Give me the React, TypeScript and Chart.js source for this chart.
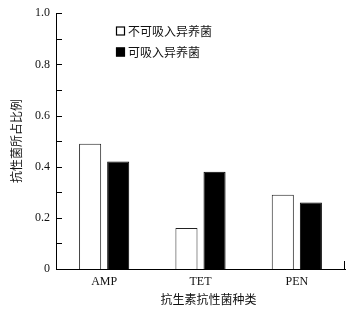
import React, { useEffect, useRef } from "react";
import { Chart, registerables } from "chart.js";

Chart.register(...registerables);

const categories = ["AMP", "TET", "PEN"];
const seriesNames = ["不可吸入异养菌", "可吸入异养菌"];
const nonInhalable = [0.49, 0.16, 0.29];
const inhalable = [0.42, 0.38, 0.26];
const yTickValues = [0, 0.1, 0.2, 0.3, 0.4, 0.5, 0.6, 0.7, 0.8, 0.9, 1.0];
const xTitle = "抗生素抗性菌种类";
const yTitle = "抗性菌所占比例";

const SERIF = "'Liberation Serif', 'Times New Roman', 'Noto Sans CJK SC', serif";
const CJK = "'Noto Sans CJK SC', 'Liberation Serif', sans-serif";

export default function App() {
  const ref = useRef<HTMLCanvasElement | null>(null);

  useEffect(() => {
    if (!ref.current) return;
    const decor = {
      id: "decor",
      afterDraw(chart: any) {
        const ctx = chart.ctx;
        const y = chart.scales.y;
        const x = chart.scales.x;
        const area = chart.chartArea;
        ctx.save();
        ctx.strokeStyle = "#000";
        ctx.lineWidth = 1;
        // inward y ticks
        yTickValues.forEach((v) => {
          const py = Math.round(y.getPixelForValue(v)) + 0.5;
          ctx.beginPath();
          ctx.moveTo(area.left, py);
          ctx.lineTo(area.left + 6, py);
          ctx.stroke();
        });
        // right end tick on x axis
        const rx = Math.round(area.right) - 0.5;
        ctx.beginPath();
        ctx.moveTo(rx, area.bottom);
        ctx.lineTo(rx, area.bottom - 8);
        ctx.stroke();

        // legend
        const ds = chart.data.datasets;
        const lx = 116;
        const lys = [31, 52];
        ds.forEach((d: any, i: number) => {
          const cy = lys[i];
          ctx.fillStyle = d.backgroundColor;
          ctx.fillRect(lx, cy - 4.5, 9, 9);
          ctx.strokeStyle = "#000";
          ctx.lineWidth = 1.2;
          ctx.strokeRect(lx + 0.5, cy - 4, 8, 8);
          ctx.fillStyle = "#111";
          ctx.font = `12px ${CJK}`;
          ctx.textAlign = "left";
          ctx.textBaseline = "middle";
          ctx.fillText(d.label, lx + 12, cy);
        });

        // x title
        ctx.fillStyle = "#111";
        ctx.font = `12px ${CJK}`;
        ctx.textAlign = "center";
        ctx.textBaseline = "middle";
        ctx.fillText(xTitle, (x.left + x.right) / 2 + 8, 299);

        // y title
        ctx.save();
        ctx.translate(16, (area.top + area.bottom) / 2);
        ctx.rotate(-Math.PI / 2);
        ctx.fillText(yTitle, 0, 0);
        ctx.restore();
        ctx.restore();
      },
    };

    const chart = new Chart(ref.current, {
      type: "bar",
      data: {
        labels: categories,
        datasets: [
          {
            label: seriesNames[0],
            data: nonInhalable,
            backgroundColor: "#ffffff",
            borderColor: "#222",
            borderWidth: 1,
          },
          {
            label: seriesNames[1],
            data: inhalable,
            backgroundColor: "#000000",
            borderColor: "#000",
            borderWidth: 1,
          },
        ],
      },
      options: {
        responsive: false,
        animation: false,
        maintainAspectRatio: false,
        layout: { padding: { top: 12, right: 4, left: 0, bottom: 0 } },
        datasets: {
          bar: { categoryPercentage: 0.583, barPercentage: 0.786 },
        },
        plugins: {
          legend: { display: false },
          tooltip: { enabled: false },
          title: { display: false },
        },
        scales: {
          x: {
            grid: { display: false, drawTicks: false },
            border: { display: true, color: "#000", width: 1 },
            ticks: {
              color: "#111",
              font: { family: SERIF, size: 12 },
              padding: 6,
            },
            afterFit: (s: any) => {
              s.height = 40;
            },
          },
          y: {
            min: 0,
            max: 1,
            grid: { display: false, drawTicks: false },
            border: { display: true, color: "#000", width: 1 },
            ticks: {
              stepSize: 0.2,
              color: "#111",
              font: { family: SERIF, size: 12 },
              padding: 6,
              callback: (v: any) => (Number(v) === 0 ? "0" : Number(v).toFixed(1)),
            },
            afterFit: (s: any) => {
              s.width = 56;
            },
          },
        },
      },
      plugins: [decor],
    });
    return () => chart.destroy();
  }, []);

  return (
    <div style={{ position: "fixed", left: 0, top: 0, width: 349, height: 309, background: "#fff" }}>
      <canvas ref={ref} width={349} height={309} style={{ display: "block" }} />
    </div>
  );
}
